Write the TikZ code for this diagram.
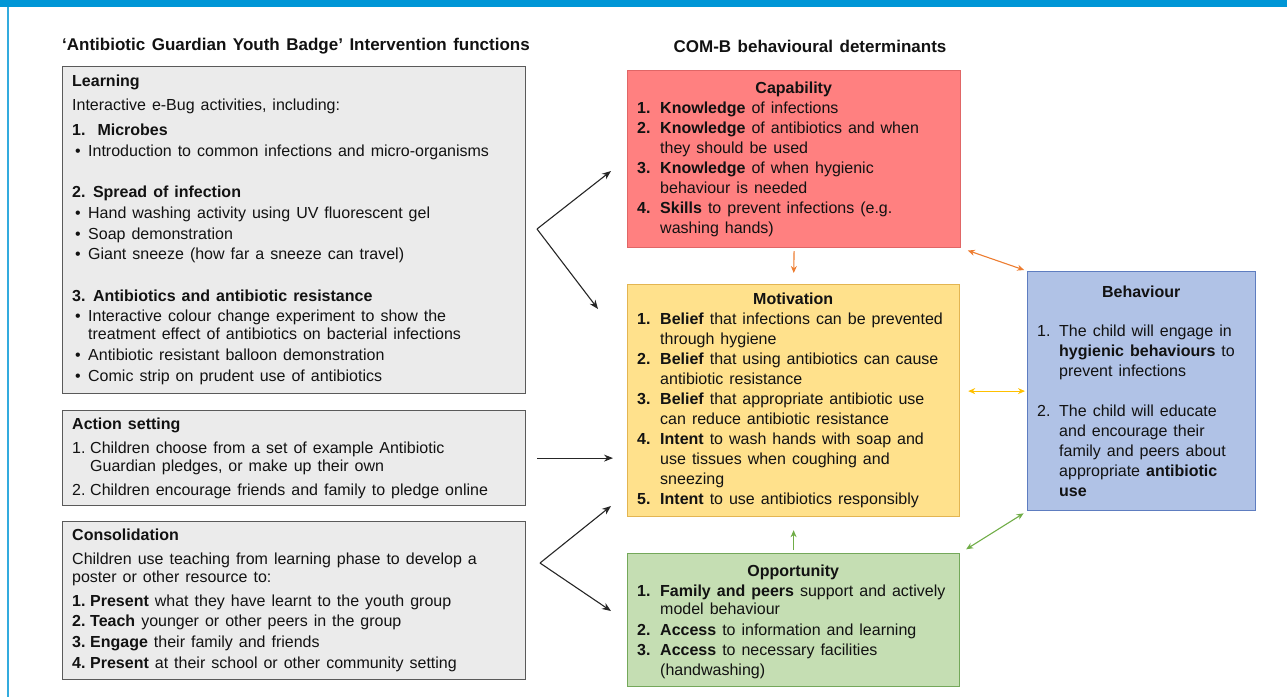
\documentclass[tikz,border=0pt]{standalone}
\usepackage{fontspec}
\setmainfont{Liberation Sans}
\usepackage{tikz}
\usetikzlibrary{arrows,arrows.meta,shapes,positioning}

\definecolor{bandblue}{HTML}{0096D6}
\definecolor{boxgrey}{HTML}{EBEBEB}
\definecolor{greyedge}{HTML}{5A5A5A}
\definecolor{capfill}{HTML}{FF8080}
\definecolor{capedge}{HTML}{E06666}
\definecolor{motfill}{HTML}{FFE18C}
\definecolor{motedge}{HTML}{E3B552}
\definecolor{oppfill}{HTML}{C5DEB3}
\definecolor{oppedge}{HTML}{74A85A}
\definecolor{behfill}{HTML}{B0C2E6}
\definecolor{behedge}{HTML}{5E7DC0}
\definecolor{linkorange}{HTML}{ED7D31}
\definecolor{linkgold}{HTML}{FFC000}
\definecolor{linkgreen}{HTML}{70AD47}

% fonts with a wider word space
\newcommand{\bodyfont}{\fontsize{16}{20}\selectfont\spaceskip=6pt plus 1pt minus 1pt\relax}
\newcommand{\headfont}{\fontsize{17}{20}\selectfont\bfseries\spaceskip=6.5pt plus 1pt minus 1pt\relax}

% numbers and bullets for the lists
\newcommand{\nb}[2][23pt]{\makebox[#1][l]{\textbf{#2}}}
\newcommand{\nn}[2][18pt]{\makebox[#1][l]{#2}}
\newcommand{\bul}{\makebox[16pt][l]{\hspace{3pt}\textbullet}}
\newcommand{\ind}[1][23pt]{\hspace*{#1}}
\newcommand{\ttl}[2]{\makebox[#1]{\textbf{#2}}}

\begin{document}
\begin{tikzpicture}
			[x=1pt, y=-1pt,
			 every node/.style={font=\bodyfont, text=black!93},
			 panel/.style={rectangle, draw, line width=1.2pt, anchor=north west, inner sep=0pt},
			 greybox/.style={panel, fill=boxgrey, draw=greyedge},
			 txt/.style={anchor=west, align=left, inner xsep=10pt, inner ysep=0pt},
			 hdr/.style={font=\headfont},
			 link/.style={-{Stealth[length=9pt, width=7pt]}, line width=1.1pt, black!85},
			 step1/.style={-{Stealth[length=7pt, width=6pt]}, line width=1.1pt},
			 both/.style={{Stealth[length=7pt, width=6pt]}-{Stealth[length=7pt, width=6pt]}, line width=1.1pt},]
          	\useasboundingbox (0,0) rectangle (1287,697);
          	\fill[bandblue] (0,0) rectangle (1287,7);
          	\draw[bandblue!80, line width=1.6pt] (8,7) -- (8,697);

          	% headings
          	\node[hdr, anchor=west, inner sep=0pt] (lefthead) at (62,46) {‘Antibiotic Guardian Youth Badge’ Intervention functions};
          	\node[hdr, inner sep=0pt] (righthead) at (810,46) {COM-B behavioural determinants};

          	% intervention functions
          	\node[greybox, minimum width=463pt, minimum height=327pt] (learn) at (62,66) {};
          	\node[txt] (learntext) at (learn.west) {\textbf{Learning}\\[4pt]
          		Interactive e-Bug activities, including:\\[5pt]
          		\textbf{1.\ \ Microbes}\\[1pt]
          		\bul Introduction to common infections and micro-organisms\\[21pt]
          		\textbf{2. Spread of infection}\\[1pt]
          		\bul Hand washing activity using UV fluorescent gel\\[1pt]
          		\bul Soap demonstration\\
          		\bul Giant sneeze (how far a sneeze can travel)\\[22pt]
          		\textbf{3. Antibiotics and antibiotic resistance}\\
          		\bul Interactive colour change experiment to show the\\[-2pt]
          		\ind[16pt]treatment effect of antibiotics on bacterial infections\\[1pt]
          		\bul Antibiotic resistant balloon demonstration\\[1pt]
          		\bul Comic strip on prudent use of antibiotics};

          	\node[greybox, minimum width=463pt, minimum height=95pt] (act) at (62,410) {};
          	\node[txt] (acttext) at (act.west) {\textbf{Action setting}\\[4pt]
          		\nn{1.}Children choose from a set of example Antibiotic\\[-2pt]
          		\ind[18pt]Guardian pledges, or make up their own\\[4pt]
          		\nn{2.}Children encourage friends and family to pledge online};

          	\node[greybox, minimum width=463pt, minimum height=158pt] (cons) at (62,521) {};
          	\node[txt] (constext) at (cons.west) {\textbf{Consolidation}\\[4pt]
          		Children use teaching from learning phase to develop a\\[-2pt]
          		poster or other resource to:\\[4pt]
          		\nb[18pt]{1.}\textbf{Present} what they have learnt to the youth group\\
          		\nb[18pt]{2.}\textbf{Teach} younger or other peers in the group\\[1pt]
          		\nb[18pt]{3.}\textbf{Engage} their family and friends\\[1pt]
          		\nb[18pt]{4.}\textbf{Present} at their school or other community setting};

          	% COM-B determinants
          	\node[panel, fill=capfill, draw=capedge, minimum width=333pt, minimum height=177pt] (cap) at (627,70) {};
          	\node[txt] (captext) at (cap.west) {\ttl{313pt}{Capability}\\
          		\nb{1.}\textbf{Knowledge} of infections\\
          		\nb{2.}\textbf{Knowledge} of antibiotics and when\\
          		\ind they should be used\\
          		\nb{3.}\textbf{Knowledge} of when hygienic\\
          		\ind behaviour is needed\\
          		\nb{4.}\textbf{Skills} to prevent infections (e.g.\\
          		\ind washing hands)};

          	\node[panel, fill=motfill, draw=motedge, minimum width=332pt, minimum height=232pt] (mot) at (627,284) {};
          	\node[txt] (mottext) at (mot.west) {\ttl{312pt}{Motivation}\\
          		\nb{1.}\textbf{Belief} that infections can be prevented\\
          		\ind through hygiene\\
          		\nb{2.}\textbf{Belief} that using antibiotics can cause\\
          		\ind antibiotic resistance\\
          		\nb{3.}\textbf{Belief} that appropriate antibiotic use\\
          		\ind can reduce antibiotic resistance\\
          		\nb{4.}\textbf{Intent} to wash hands with soap and\\
          		\ind use tissues when coughing and\\
          		\ind sneezing\\
          		\nb{5.}\textbf{Intent} to use antibiotics responsibly};

          	\node[panel, fill=oppfill, draw=oppedge, minimum width=332pt, minimum height=133pt] (opp) at (627,553) {};
          	\node[txt, yshift=-2pt] (opptext) at (opp.west) {\ttl{312pt}{Opportunity}\\
          		\nb{1.}\textbf{Family and peers} support and actively\\[-2pt]
          		\ind model behaviour\\[1pt]
          		\nb{2.}\textbf{Access} to information and learning\\
          		\nb{3.}\textbf{Access} to necessary facilities\\
          		\ind (handwashing)};

          	\node[panel, fill=behfill, draw=behedge, minimum width=228pt, minimum height=239pt] (beh) at (1027,271) {};
          	\node[txt] (behtext) at (beh.west) {\ttl{208pt}{Behaviour}\\[19pt]
          		\nn[22pt]{1.}The child will engage in\\
          		\ind[22pt]\textbf{hygienic behaviours} to\\
          		\ind[22pt]prevent infections\\[20pt]
          		\nn[22pt]{2.}The child will educate\\
          		\ind[22pt]and encourage their\\
          		\ind[22pt]family and peers about\\
          		\ind[22pt]appropriate \textbf{antibiotic}\\
          		\ind[22pt]\textbf{use}};

          	% links from the intervention functions
          	\coordinate (learnfork) at (537,229);
          	\coordinate (capin) at (611,171);
          	\coordinate (motin) at (598,309);
          	\coordinate (consfork) at (540,563);
          	\coordinate (motlow) at (611,506);
          	\coordinate (oppin) at (611,611);
          	\draw[link] (learnfork) -- (capin);
          	\draw[link] (learnfork) -- (motin);
          	\draw[link, shorten <=11pt, shorten >=14pt] (act.east) -- (act.east -| mot.west);
          	\draw[link] (consfork) -- (motlow);
          	\draw[link] (consfork) -- (oppin);

          	% links between the determinants
          	\draw[step1, linkorange, shorten <=3pt, shorten >=11pt] (cap.south) -- (mot.north);
          	\draw[step1, linkgreen, shorten <=3pt, shorten >=13pt] (opp.north) -- (mot.south);
          	\draw[both, linkorange, shorten <=7pt, shorten >=3pt] (cap.south east) -- (beh.north west);
          	\draw[both, linkgold, shorten <=2pt, shorten >=8pt] (beh.west) -- (beh.west -| mot.east);
          	\draw[both, linkgreen, shorten <=4pt, shorten >=7pt] (beh.south west) -- (opp.north east);
			\end{tikzpicture}
\end{document}
